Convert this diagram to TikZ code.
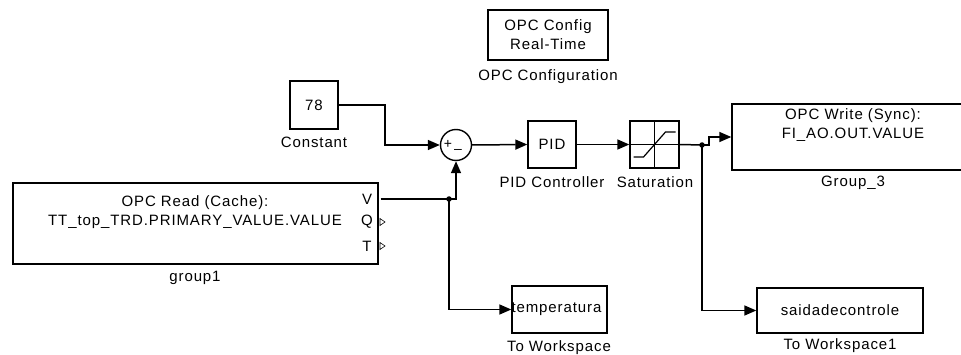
\documentclass[tikz,border=0pt]{standalone}
\usepackage{fontspec}
\setmainfont{Liberation Sans}[LetterSpace=6]
\usetikzlibrary{arrows.meta}
\tikzset{
	blk/.style={draw,line width=1.4pt,inner sep=0pt},
	wire/.style={line width=1.5pt},
	sig/.style={wire,-{Triangle[length=12pt,width=10pt]}},
	jn/.style={circle,fill,inner sep=0pt,minimum size=5.5pt},
	port/.style={draw,line width=0.6pt},
}
\begin{document}
\begin{tikzpicture}[x=1pt,y=-1pt,font=\fontsize{15}{19}\selectfont]
		\useasboundingbox (0,0) rectangle (961,355);
		\clip (0,0) rectangle (961,355);
		% Blocos
		\node[blk,minimum width=120,minimum height=50,align=center] (cfg) at (548,35) {OPC Config\\Real-Time};
		\node (cfglbl) at (548,77) {OPC Configuration};
		\node[blk,minimum width=48,minimum height=48] (const) at (314,105) {78};
		\node (constlbl) at (314,142) {Constant};
		\node[blk,minimum width=365,minimum height=81] (read) at (195.5,223.5) {};
		\node[align=center] (readtxt) at (195,212) {OPC Read (Cache):\\TT\_top\_TRD.PRIMARY\_VALUE.VALUE};
		\node (pv) at (367,199) {V};
		\node (pq) at (367,222) {Q};
		\node (pt) at (367,246) {T};
		\draw[port] (380,218.5) -- (385,222) -- (380,225.5) -- cycle;
		\draw[port] (380,242.5) -- (385,246) -- (380,249.5) -- cycle;
		\node (readlbl) at (195,278) {group1};
		\node[blk,circle,minimum size=31pt] (sum) at (456,145) {};
		\node[font=\fontsize{14}{14}\selectfont] (plus) at (448,144) {+};
		\node[font=\fontsize{14}{14}\selectfont] (minus) at (458,151) {--};
		\node[blk,minimum width=48,minimum height=47] (pid) at (552,144.5) {PID};
		\node (pidlbl) at (552,182) {PID Controller};
		\node[blk,minimum width=49,minimum height=47] (sat) at (654.5,144.5) {};
		\draw[line width=1.2pt] (sat.north) -- (sat.south);
		\draw[line width=1.2pt] (sat.west) -- (sat.east);
		\draw[line width=1.2pt] ([shift={(-21,12.5)}]sat.center) -- ([shift={(-11,12.5)}]sat.center)
			-- ([shift={(11,-12.5)}]sat.center) -- ([shift={(21,-12.5)}]sat.center);
		\node (satlbl) at (655,182) {Saturation};
		\node[blk,minimum width=243,minimum height=66] (write) at (853.5,137) {};
		\node[align=center] (writetxt) at (853,125) {OPC Write (Sync):\\FI\_AO.OUT.VALUE};
		\node (writelbl) at (853,183) {Group\_3};
		\node[blk,minimum width=95,minimum height=47] (temp) at (559.5,309.5) {};
		\node[anchor=west,inner sep=0pt] (temptxt) at (temp.west) {temperatura};
		\node (templbl) at (559,348) {To Workspace};
		\node[blk,minimum width=166,minimum height=45] (saida) at (840,310.5) {saidadecontrole};
		\node (saidalbl) at (840,346) {To Workspace1};
		% Ligacoes
		\node[jn] (j1) at (449,199) {};
		\node[jn] (j2) at (702,145) {};
		\draw[wire] (pv.east) ++(5,0) -- (j1.center);
		\draw[sig] (j1.center) -| (sum.south);
		\draw[sig] (j1.center) |- (temp.west);
		\draw[sig] (const.east) -| (385,145) -- (sum.west);
		\draw[sig] (sum.east) -- (pid.west);
		\draw[sig] (pid.east) -- (sat.west);
		\draw[wire] (sat.east) -- (j2.center);
		\draw[sig] (j2.center) -- (709,145) -- (709,137) -- (write.west);
		\draw[sig] (j2.center) |- (saida.west);
	\end{tikzpicture}
\end{document}
